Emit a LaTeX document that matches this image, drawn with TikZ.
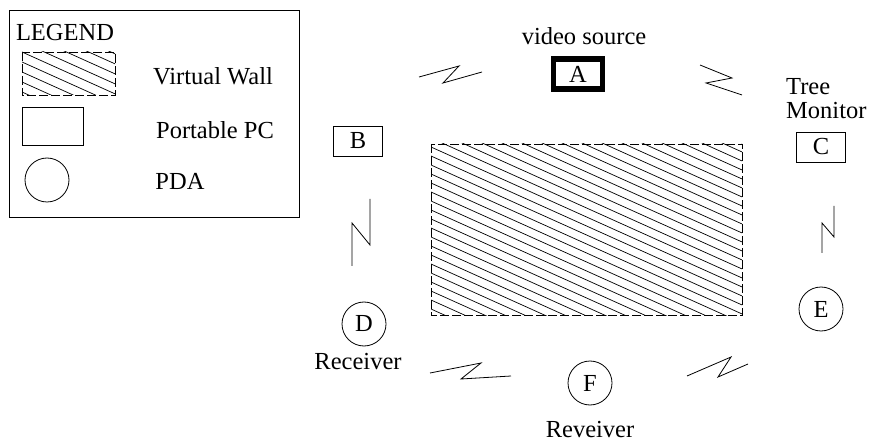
\documentclass[tikz,border=0pt]{standalone}
\usepackage{fontspec}
\setmainfont{Liberation Serif}
\usetikzlibrary{positioning}

\begin{document}
\begin{tikzpicture}[x=1pt,y=-1pt,
  every node/.style={font=\fontsize{24.5}{27}\selectfont, inner sep=0pt},
  pc/.style={draw, line width=0.8pt, minimum width=49pt, minimum height=30pt},
  pda/.style={draw, circle, line width=0.8pt, minimum size=44pt},
  wallborder/.style={line width=0.8pt, dash pattern=on 9pt off 3pt},
  zap/.style={line width=0.8pt}]

\useasboundingbox (0,0) rectangle (869,443);

% ===== Legende =====
\draw[line width=0.8pt] (9,10) rectangle (299,217);
\node (legend) at (65,33) {LEGEND};

% mur virtuel (legende)
\begin{scope}
  \clip (22,52) rectangle (115,95);
  \foreach \k in {-50,-40,...,50}
    \draw[line width=0.7pt] (22,52+\k) -- +(100,45);
\end{scope}
\draw[wallborder] (22,52) rectangle (115,95);
\node (lwall) at (213,76) {Virtual Wall};

\node[pc, minimum width=61pt, minimum height=38pt] (lpc) at (52.5,126) {};
\node (lpctext) at (215,130) {Portable PC};

\node[pda] (lpda) at (47,180) {};
\node (lpdatext) at (180,181) {PDA};

% ===== Mur virtuel =====
\begin{scope}
  \clip (431,144) rectangle (742,315);
  \foreach \k in {-150,-141,...,180}
    \draw[line width=0.7pt] (431,144+\k) -- +(330,148.5);
\end{scope}
\draw[wallborder] (431,144) rectangle (742,315);

% ===== Noeuds =====
\node[pc, line width=5.5pt] (A) at (578,74) {A};
\node (videosrc) at (584,36) {video source};

\node[pc] (B) at (358,141) {B};

\node[pc] (C) at (821,147) {C};
\node[align=left, anchor=west] (treemon) at (786,99) {Tree\\[-3pt]Monitor};

\node[pda] (D) at (364,324) {D};
\node (recvD) at (358,362) {Receiver};

\node[pda] (E) at (821,309) {E};

\node[pda] (F) at (590,383) {F};
\node (recvF) at (590,430) {Reveiver};

% ===== Liaisons sans fil =====
\draw[zap] (419,77) -- (459,66) -- (443,83) -- (482,72);   % B -- A
\draw[zap] (700,65) -- (732,78) -- (706,83) -- (742,95);   % A -- C
\draw[zap] (370,199) -- (370,245) -- (352,223) -- (352,266); % B -- D
\draw[zap] (834,206) -- (834,237) -- (822,223) -- (822,253); % C -- E
\draw[zap] (430,373) -- (481,363) -- (461,379) -- (511,376); % D -- F
\draw[zap] (687,376) -- (731,357) -- (718,377) -- (748,364); % F -- E

\end{tikzpicture}
\end{document}
